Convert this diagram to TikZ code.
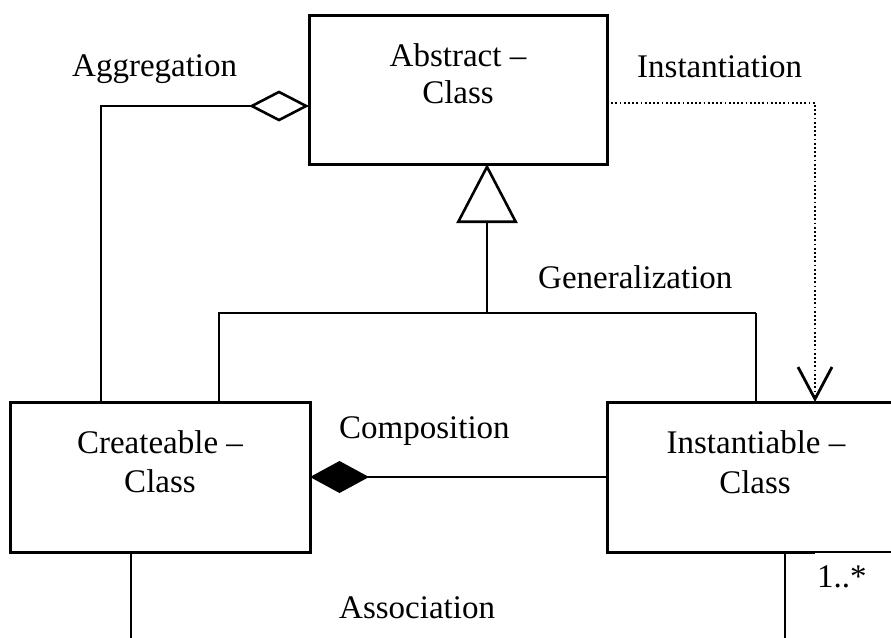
\documentclass[tikz,border=0pt]{standalone}
\usepackage{fontspec}
\setmainfont{Liberation Serif}
\usetikzlibrary{arrows.meta,calc}
\begin{document}
\begin{tikzpicture}[x=1pt,y=-1pt,
  classbox/.style={draw,line width=3pt,inner sep=0pt,outer sep=0pt},
  hidebox/.style={inner sep=0pt,outer sep=0pt},
  txt/.style={inner sep=0pt,font=\fontsize{33}{38}\selectfont},
  ctxt/.style={txt,anchor=base},
  ltxt/.style={txt,anchor=base west},
  conn/.style={line width=2.6pt},
  thinline/.style={line width=1.3pt},
  dep/.style={line width=2.4pt,dash pattern=on 1.8pt off 2.4pt}]
\useasboundingbox (0,0) rectangle (891,637);

% classes
\node[classbox,minimum width=298pt,minimum height=149pt] (abs) at (458,89.5) {};
\node[classbox,minimum width=300pt,minimum height=150pt] (cre) at (160,477) {};
\node[hidebox,minimum width=300pt,minimum height=150pt] (ins) at (757,477) {};
\coordinate (insR) at (891,402);
\coordinate (insB) at (815,552);
\coordinate (insBR) at (891,552);
\draw[line width=3pt] (insR) -- (ins.north west) -- (ins.south west) -- (insB);
\draw[thinline] (insB) -- (insBR);

% class names
\node[ctxt] (absA) at (458,66) {Abstract –};
\node[ctxt] (absB) at (458,103) {Class};
\node[ctxt] (creA) at (160,453) {Createable –};
\node[ctxt] (creB) at (160,492) {Class};
\node[ctxt] (insA) at (756,453) {Instantiable –};
\node[ctxt] (insC) at (755,493) {Class};

% relation labels
\node[ltxt] (lagg) at (72,76) {Aggregation};
\node[ltxt] (linst) at (637,77) {Instantiation};
\node[ltxt] (lgen) at (538,288) {Generalization};
\node[ltxt] (lcomp) at (339,438) {Composition};
\node[ltxt] (lassoc) at (339,618) {Association};
\node[ltxt] (lmult) at (817,587) {1..*};

% aggregation
\draw[conn,-{Diamond[open,length=60pt,width=31pt,line width=2.6pt]}]
  ([xshift=-59pt]cre.north) |- ([yshift=-16.5pt]abs.west);

% generalization
\coordinate (gj) at (487,313);
\coordinate (gthin) at (517,313);
\coordinate (gr) at (756,313);
\draw[conn,-{Triangle[open,length=59pt,width=61pt,line width=2.6pt]}] (gj) -- (gj |- abs.south);
\draw[conn] ([xshift=59pt]cre.north) |- (gthin);
\draw[thinline] (gthin) -- (gr);
\draw[conn] (gr) -- (gr |- ins.north);

% composition
\draw[conn,-{Diamond[length=59pt,width=32pt]}] (ins.west) -- (cre.east);

% instantiation
\coordinate (ic) at (815,103);
\draw[dep,-{Straight Barb[length=32pt,width=34pt,line width=2.8pt]}]
  ([yshift=-13.5pt]abs.east) -| (ins.north -| ic);

% association
\coordinate (aL) at (131,640);
\coordinate (aR) at (785,640);
\draw[conn] (aL |- cre.south) -- (aL);
\draw[conn] (aR |- ins.south) -- (aR);
\end{tikzpicture}
\end{document}
